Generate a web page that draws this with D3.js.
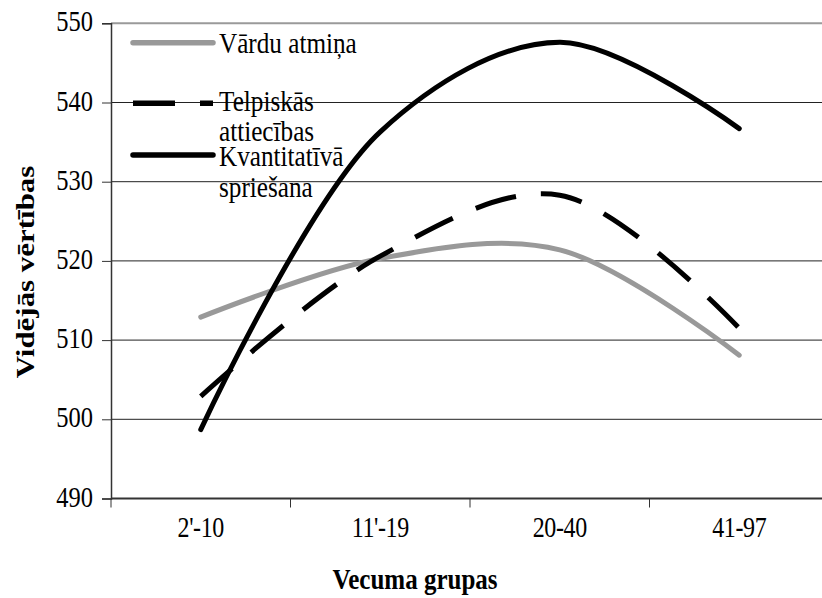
<!DOCTYPE html>
<html>
<head>
<meta charset="utf-8">
<script src="https://cdn.jsdelivr.net/npm/d3@7"></script>
<style>
  html, body { margin: 0; padding: 0; background: #fff; }
  svg { display: block; }
  svg text { font-family: "Liberation Serif", "DejaVu Serif", serif; }
</style>
</head>
<body>
<svg id="chart" width="822" height="598"></svg>
<script>
// Age groups and mean scores per test
const categories = ["2'-10", "11'-19", "20-40", "41-97"];
const vardaAtmina = [512.9, 520.3, 521.4, 508.1];
const telpiskas = [502.9, 520.6, 528.3, 511.5];
const kvantitativa = [498.7, 536.3, 547.6, 536.7];
const yTicks = [490, 500, 510, 520, 530, 540, 550];

const seriesNames = ["Vārdu atmiņa", ["Telpiskās", "attiecības"], ["Kvantitatīvā", "spriešana"]];

const svg = d3.select("#chart");
const plotLeft = 111, plotRight = 829, plotTop = 23.3, plotBottom = 498.5;

const x = d3.scalePoint().domain(categories).range([plotLeft, plotRight]).padding(0.5);
const y = d3.scaleLinear().domain([490, 550]).range([plotBottom, plotTop]);

// tall, narrow serif lettering
const SY = 1.19;
const FONT = "'Liberation Serif', 'Times New Roman', 'DejaVu Serif', serif";
function label(g, tx, ty, str, opts = {}) {
  return g.append("text")
    .attr("transform", `translate(${tx},${ty}) scale(1,${SY})` + (opts.rotate ? ` rotate(${opts.rotate})` : ""))
    .attr("text-anchor", opts.anchor || "start")
    .attr("font-family", FONT)
    .attr("font-size", opts.size || 24)
    .attr("font-weight", opts.bold ? "bold" : "normal")
    .attr("letter-spacing", opts.ls || 0)
    .attr("fill", "#000")
    .text(str);
}

// horizontal gridlines
svg.append("g").selectAll("line")
  .data(yTicks.filter(v => v > 490 && v < 550))
  .join("line")
  .attr("x1", plotLeft).attr("x2", 822)
  .attr("y1", d => y(d)).attr("y2", d => y(d))
  .attr("stroke", "#222").attr("stroke-width", 1);

// plot-area top border
svg.append("line")
  .attr("x1", plotLeft).attr("x2", 822)
  .attr("y1", y(550)).attr("y2", y(550))
  .attr("stroke", "#9a9a9a").attr("stroke-width", 2);

// y axis
const yAxis = svg.append("g")
  .attr("transform", `translate(${plotLeft},0)`)
  .call(d3.axisLeft(y).tickValues(yTicks).tickSize(9).tickFormat(""));
yAxis.select(".domain").attr("stroke", "#333").attr("stroke-width", 1.5);
yAxis.selectAll(".tick line").attr("stroke", "#333");
const yLab = svg.append("g");
yTicks.forEach(v => label(yLab, 93, y(v) + 8, String(v), { anchor: "end", size: 24.5 }));

// x axis: ticks at category boundaries
const step = x.step();
const xBounds = d3.range(categories.length + 1).map(i => plotLeft + i * step);
svg.append("line")
  .attr("x1", plotLeft).attr("x2", 822)
  .attr("y1", plotBottom).attr("y2", plotBottom)
  .attr("stroke", "#333").attr("stroke-width", 2);
svg.append("g").selectAll("line")
  .data(xBounds)
  .join("line")
  .attr("x1", d => d).attr("x2", d => d)
  .attr("y1", plotBottom).attr("y2", plotBottom + 9)
  .attr("stroke", "#333").attr("stroke-width", 1);
const xLab = svg.append("g");
categories.forEach(c => label(xLab, x(c), 537, c, { anchor: "middle", size: 24, ls: -0.4 }));

// axis titles
label(svg, 415, 589, "Vecuma grupas", { anchor: "middle", size: 25, bold: true });
label(svg, 34, 272, "Vidējās vērtības", { anchor: "middle", size: 26, bold: true, rotate: -90 });

// series lines
const line = d3.line()
  .x((d, i) => x(categories[i]))
  .y(d => y(d))
  .curve(d3.curveCatmullRom.alpha(0.5));

const series = [
  { values: vardaAtmina, color: "#999999", dash: null, cap: "round" },
  { values: telpiskas, color: "#000", dash: "42,25", cap: "butt" },
  { values: kvantitativa, color: "#000", dash: null, cap: "round" }
];

const plot = svg.append("g");
series.forEach(s => {
  plot.append("path")
    .attr("d", line(s.values))
    .attr("fill", "none")
    .attr("stroke", s.color)
    .attr("stroke-width", 5)
    .attr("stroke-linecap", s.cap)
    .attr("stroke-linejoin", "round")
    .attr("stroke-dasharray", s.dash);
});

// legend
const legend = svg.append("g");
const legendRows = [
  { lineY: 42.7, textY: [53.3] },
  { lineY: 103.3, textY: [110.7, 141.2] },
  { lineY: 155, textY: [166, 196.5] }
];
series.forEach((s, i) => {
  const r = legendRows[i];
  legend.append("line")
    .attr("x1", 133).attr("x2", 213)
    .attr("y1", r.lineY).attr("y2", r.lineY)
    .attr("stroke", s.color)
    .attr("stroke-width", 5.5)
    .attr("stroke-linecap", s.cap)
    .attr("stroke-dasharray", s.dash);
  const names = Array.isArray(seriesNames[i]) ? seriesNames[i] : [seriesNames[i]];
  names.forEach((n, j) => label(legend, 219, r.textY[j], n, { size: 25.2 }));
});
</script>
</body>
</html>
